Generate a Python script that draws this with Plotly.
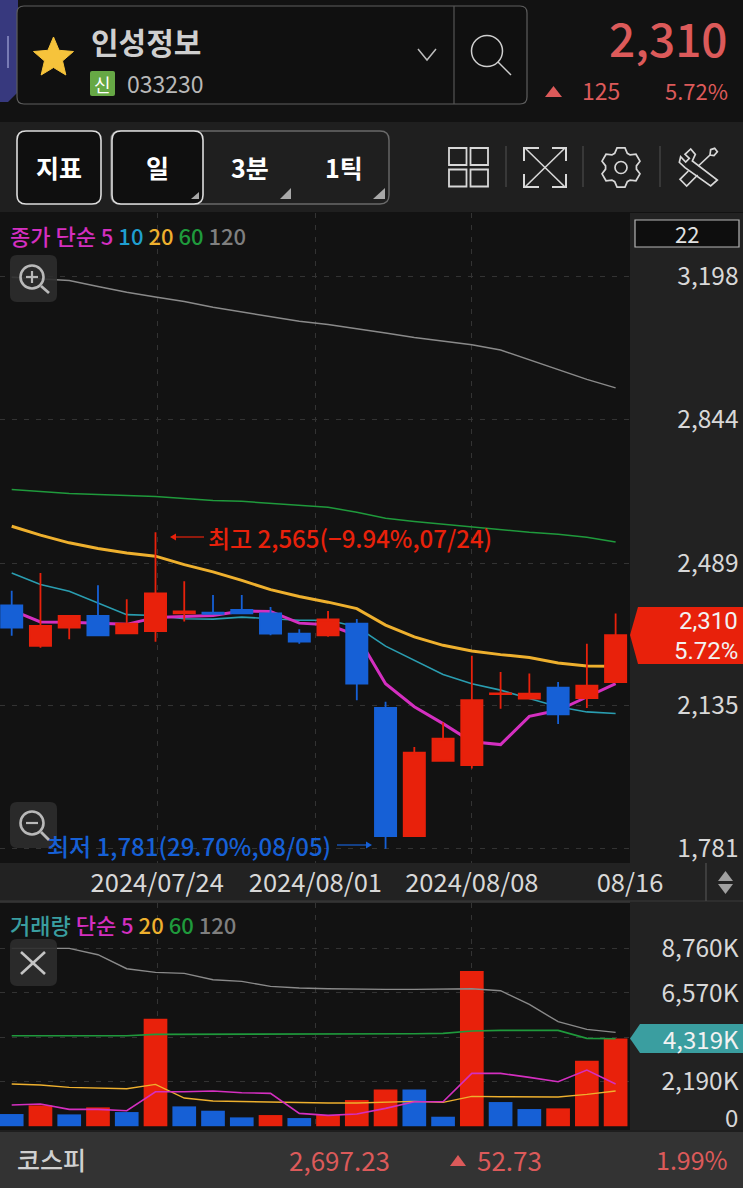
import math
import plotly.graph_objects as go

W, H = 743, 1188
FONT = "Noto Sans CJK KR, Roboto, sans-serif"

# ---- data -------------------------------------------------------------
dates = ["07/17","07/18","07/19","07/22","07/23","07/24","07/25","07/26","07/29","07/30","07/31",
         "08/01","08/02","08/05","08/06","08/07","08/08","08/09","08/12","08/13","08/14","08/16"]
opens  = [2384,2284,2329,2358,2315,2320,2364,2366,2373,2364,2314,2310,2339,2130,1812,1999,1988,2164,2153,2180,2154,2194]
highs  = [2420,2464,2358,2434,2399,2565,2444,2410,2410,2380,2325,2370,2350,2145,2033,2094,2259,2219,2215,2194,2289,2364]
lows   = [2309,2279,2300,2310,2315,2294,2344,2361,2362,2310,2289,2306,2149,1781,1812,1999,1980,2128,2153,2090,2130,2194]
closes = [2329,2333,2358,2310,2339,2414,2369,2363,2364,2314,2294,2349,2190,1812,2019,2054,2149,2166,2165,2114,2185,2310]
ma5   = [2372,2343,2342,2340,2337,2354,2357,2359,2370,2369,2340,2336,2310,2190,2133,2091,2046,2039,2109,2124,2157,2190]
ma10  = [2464,2436,2419,2390,2361,2359,2351,2350,2355,2351,2347,2347,2331,2283,2248,2213,2190,2174,2153,2133,2120,2116]
ma20  = [2580,2558,2539,2525,2514,2506,2485,2467,2446,2423,2406,2392,2376,2335,2306,2285,2271,2262,2255,2241,2234,2233]
ma60  = [2671,2666,2661,2659,2657,2654,2649,2644,2642,2637,2632,2627,2615,2600,2592,2585,2578,2572,2565,2560,2553,2541]
ma120 = [3197,3193,3189,3174,3160,3148,3137,3123,3111,3100,3088,3080,3070,3059,3048,3039,3030,3017,2993,2969,2944,2923]

volume = [600,1027,583,928,698,5298,977,764,435,550,402,550,1290,1815,1815,468,7648,1191,846,879,3228,4319]
vol_dir = ["d","u","d","u","d","u","d","d","d","u","d","u","u","u","d","d","u","d","d","u","u","u"]
vol5   = [1043,1093,830,830,764,1700,1700,1733,1651,1618,633,534,600,879,1208,1208,2604,2604,2407,2193,2768,2078]
vol20  = [2078,2029,1914,1881,1848,2062,1388,1240,1208,1191,1158,1142,1142,1175,1224,1175,1470,1454,1438,1438,1569,1733]
vol60  = [4461,4461,4477,4477,4461,4527,4527,4527,4527,4527,4527,4527,4543,4559,4559,4576,4691,4724,4724,4724,4329,4313]
vol120 = [8765,8765,8765,8453,7763,7582,7533,7221,7139,6892,6810,6777,6744,6744,6744,6744,6777,6679,6005,5151,4773,4625]

x_tick_pos = [5.06, 10.56, 16.0, 21.5]
x_tick_txt = ["2024/07/24", "2024/08/01", "2024/08/08", "08/16"]
price_ticks = [1781, 2135, 2489, 2844, 3198]
price_tick_txt = ["1,781", "2,135", "2,489", "2,844", "3,198"]
vol_ticks = [2190, 4380, 6570, 8760]
vol_tick_txt = ["2,190K", "", "6,570K", "8,760K"]

# ---- colours ----------------------------------------------------------
RED, BLUE = "#e8210b", "#1660d6"
SOFT_RED = "#dc5a5a"
MAG, TEAL, AMB, GRN, GRY = "#d42fc0", "#2a9db0", "#eeb02e", "#1f9a3c", "#8a8a8a"
DARK, PANEL, BAR = "#121212", "#222222", "#333333"
GRID = "#333333"

def px(x): return x / W
def py(y): return 1 - y / H

shapes, annos = [], []

def rect(x0, y0, x1, y1, fill=None, line=None, lw=1.5, layer="above"):
    shapes.append(dict(type="rect", xref="paper", yref="paper", x0=px(x0), x1=px(x1), y0=py(y0), y1=py(y1),
                       fillcolor=fill or "rgba(0,0,0,0)", line=dict(color=line or "rgba(0,0,0,0)", width=lw if line else 0),
                       layer=layer))

def rrect(x0, y0, x1, y1, r, fill=None, line=None, lw=1.5, layer="above"):
    p = [(x0 + r, y0), (x1 - r, y0), (x1, y0), (x1, y0 + r), (x1, y1 - r), (x1, y1), (x1 - r, y1), (x0 + r, y1), (x0, y1), (x0, y1 - r), (x0, y0 + r), (x0, y0), (x0 + r, y0)]
    f = lambda q: f"{px(q[0]):.5f},{py(q[1]):.5f}"
    d = f"M{f(p[0])} L{f(p[1])} Q{f(p[2])} {f(p[3])} L{f(p[4])} Q{f(p[5])} {f(p[6])} L{f(p[7])} Q{f(p[8])} {f(p[9])} L{f(p[10])} Q{f(p[11])} {f(p[12])} Z"
    shapes.append(dict(type="path", xref="paper", yref="paper", path=d, fillcolor=fill or "rgba(0,0,0,0)",
                       line=dict(color=line or "rgba(0,0,0,0)", width=lw if line else 0), layer=layer))

def poly(points, fill=None, line=None, lw=1.5, close=True, layer="above"):
    d = "M" + " L".join(f"{px(a):.5f},{py(b):.5f}" for a, b in points) + (" Z" if close else "")
    shapes.append(dict(type="path", xref="paper", yref="paper", path=d, fillcolor=fill or "rgba(0,0,0,0)",
                       line=dict(color=line or "rgba(0,0,0,0)", width=lw if line else 0), layer=layer))

def seg(x0, y0, x1, y1, color, lw=1.5, layer="above"):
    shapes.append(dict(type="line", xref="paper", yref="paper", x0=px(x0), x1=px(x1), y0=py(y0), y1=py(y1),
                       line=dict(color=color, width=lw), layer=layer))

def circle(cx, cy, r, line, lw=1.5, fill=None):
    shapes.append(dict(type="circle", xref="paper", yref="paper", x0=px(cx - r), x1=px(cx + r), y0=py(cy - r), y1=py(cy + r),
                       line=dict(color=line, width=lw), fillcolor=fill or "rgba(0,0,0,0)", layer="above"))

def text(x, y, s, size, color, anchor="left", weight=400, family=FONT):
    annos.append(dict(xref="paper", yref="paper", x=px(x), y=py(y), text=s, showarrow=False, xanchor=anchor, yanchor="middle",
                      align=anchor, font=dict(family=family, size=size, color=color, weight=weight), borderpad=0, borderwidth=0))

# ---- backgrounds ------------------------------------------------------
rect(0, 122, 743, 212, fill="#1f1f1f", layer="below")
rect(630, 213, 743, 903, fill=PANEL, layer="below")
rect(0, 863, 743, 901, fill=PANEL, layer="below")
rect(630, 903, 743, 1130, fill=PANEL, layer="below")
rect(0, 1130, 743, 1132, fill="#1e1e1e", layer="below")
rect(0, 1132, 743, 1188, fill=BAR, layer="below")
rect(0, 901, 630, 903, fill="#2e2e2e", layer="below")
seg(0, 901, 743, 901, "#3a3a3a", 1, layer="below")

# ---- header -----------------------------------------------------------
poly([(0, 0), (18, 0), (18, 92), (8, 102), (0, 102)], fill="#37397e")
seg(8, 36, 8, 68, "#8f92c9", 1.5)
rrect(17, 6, 527, 104, 7, fill="#101010", line="#5e5e5e", lw=1.2)
seg(454, 6, 454, 104, "#555555", 1.2)
star = []
for k in range(10):
    r = 21 if k % 2 == 0 else 9.5
    a = -math.pi / 2 + k * math.pi / 5
    star.append((53.5 + r * math.cos(a), 58 + r * math.sin(a)))
poly(star, fill="#f6c33b", line="#f6c33b", lw=1)
text(91, 41, "인성정보", 30, "#cfcfcf", weight=700)
rrect(90, 71, 115, 96, 2, fill="#66a845")
text(102.5, 83.5, "신", 18, "#ffffff", "center")
text(127, 83, "033230", 23, "#b8b8b8")
poly([(418, 49), (427, 60), (436, 49)], line="#bdbdbd", lw=1.5, close=False)
circle(487, 51, 15.5, "#cfcfcf", 1.5)
seg(498, 62, 511, 75, "#cfcfcf", 1.5)
text(728, 37, "2,310", 46, SOFT_RED, "right", 500)
poly([(545, 97), (553.5, 86), (562, 97)], fill=SOFT_RED)
text(582, 90, "125", 23, SOFT_RED)
text(728, 90, "5.72%", 22, SOFT_RED, "right")

# ---- toolbar ----------------------------------------------------------
rrect(17, 131, 101, 204, 9, fill="#0f0f0f", line="#dddddd", lw=1.6)
rrect(111, 131, 389, 204, 9, line="#6a6a6a", lw=1.4)
rrect(112, 131, 203, 204, 9, fill="#0f0f0f", line="#dddddd", lw=1.6)
text(59, 167, "지표", 25, "#ffffff", "center", 700)
text(157.5, 167, "일", 25, "#ffffff", "center", 700)
text(250, 167, "3분", 25, "#ffffff", "center", 700)
text(344, 167, "1틱", 25, "#ffffff", "center", 700)
poly([(191, 199), (199, 199), (199, 192)], fill="#a8a8a8")
poly([(280, 199), (291, 199), (291, 188)], fill="#a8a8a8")
poly([(373, 199), (385, 199), (385, 188)], fill="#a8a8a8")
IC = "#d8d8d8"
for a, b in [(449, 148), (470.5, 148), (449, 169.5), (470.5, 169.5)]:
    rect(a, b, a + 17.5, b + 17, line=IC, lw=1.8)
for sx in (506, 583, 660):
    seg(sx, 146, sx, 187, "#444444", 1.4)
seg(525, 148, 565, 187, IC, 1.6)
seg(565, 148, 525, 187, IC, 1.6)
for pts in ([(539, 148), (524, 148), (524, 161)], [(552, 148), (566, 148), (566, 161)],
            [(524, 174), (524, 187), (539, 187)], [(566, 174), (566, 187), (552, 187)]):
    poly(pts, line=IC, lw=2, close=False)
gear = []
for t in range(6):
    base = -math.pi / 2 + t * math.pi / 3
    for off, r in ((-0.42, 15.5), (-0.2, 20), (0.2, 20), (0.42, 15.5)):
        gear.append((621 + r * math.cos(base + off), 167.5 + r * math.sin(base + off)))
poly(gear, line=IC, lw=1.7)
circle(621, 167.5, 6, IC, 1.7)
tz = lambda pts: [(a / 3 + 440, b / 3 + 135) for a, b in pts]
poly(tz([(752, 42), (735, 58), (748, 70), (737, 81), (722, 65), (718, 82), (735, 98), (812, 153), (832, 135), (757, 78), (766, 58)]), line=IC, lw=1.7)
poly(tz([(812, 44), (824, 40), (832, 50), (822, 62), (810, 60)]), line=IC, lw=1.7)
seg(*tz([(810, 60)])[0], *tz([(775, 93)])[0], IC, 1.7)
poly(tz([(745, 108), (720, 133), (740, 153), (773, 120)]), line=IC, lw=1.7, close=False)

# ---- legends ----------------------------------------------------------
def sp(t, c): return f'<span style="color:{c}">{t}</span>'
text(10, 235, sp("종가 단순 5 ", MAG) + sp("10 ", "#1f9fd0") + sp("20 ", AMB) + sp("60 ", GRN) + sp("120", "#7f7f7f"), 22, MAG, weight=500)
text(10, 924, sp("거래량 ", "#3a9ea0") + sp("단순 5 ", MAG) + sp("20 ", AMB) + sp("60 ", GRN) + sp("120", "#7f7f7f"), 22, MAG, weight=500)
rect(635, 220, 739, 247, fill="#0e0e0e", line="#b5b5b5", lw=1.2)
text(687, 232.5, "22", 22, "#e2e2e2", "center")

# ---- zoom icons -------------------------------------------------------
ICG = "#b9b9b9"
rrect(10, 255, 57, 302, 7, fill="rgba(46,46,46,0.9)")
circle(32, 277, 11.5, ICG, 2.6)
seg(26, 277, 38, 277, ICG, 2.2)
seg(32, 271, 32, 283, ICG, 2.2)
seg(41, 286, 49, 293, ICG, 2.8)
rrect(10, 802, 57, 848, 7, fill="rgba(46,46,46,0.9)")
circle(32, 823, 11.5, ICG, 2.6)
seg(26, 823, 38, 823, ICG, 2.2)
seg(41, 832, 49, 840, ICG, 2.8)
rrect(10, 939, 57, 986, 7, fill="rgba(46,46,46,0.9)")
seg(21, 952, 45, 974, "#c4c4c4", 2.6)
seg(45, 952, 21, 974, "#c4c4c4", 2.6)

# ---- high / low notes -------------------------------------------------
text(208, 537, "최고 2,565(−9.94%,07/24)", 24, RED, weight=500)
seg(172, 537, 204, 537, RED, 1.2)
poly([(170, 537), (176, 533.5), (176, 540.5)], fill=RED)
text(47, 845, "최저 1,781(29.70%,08/05)", 24, BLUE, weight=500)
seg(337, 845, 368, 845, BLUE, 1.2)
poly([(372, 845), (366, 841.5), (366, 848.5)], fill=BLUE)

# ---- tags -------------------------------------------------------------
poly([(630, 635), (638, 607), (743, 607), (743, 664), (638, 664)], fill=RED)
text(738, 621, "2,310", 24, "#f2f2f2", "right", family="Roboto")
text(738, 651, "5.72%", 24, "#f2f2f2", "right", family="Roboto")
poly([(630, 1038.5), (640, 1024), (743, 1024), (743, 1053), (640, 1053)], fill="#3a9ea0")
text(738.5, 1038, "4,319K", 24, "#f2f2f2", "right")
text(738, 1116, "0", 24, "#d8d8d8", "right")

# scroll arrows in the date band
seg(706, 863, 706, 901, "#4a4a4a", 1.4)
poly([(718, 881), (725.5, 871), (733, 881)], fill="#a0a0a0")
poly([(718, 884), (733, 884), (725.5, 894)], fill="#a0a0a0")

# ---- bottom bar -------------------------------------------------------
text(17, 1159, "코스피", 25, "#d0d0d0", weight=500)
text(390, 1159, "2,697.23", 26, SOFT_RED, "right")
poly([(450, 1166), (458, 1155), (466, 1166)], fill=SOFT_RED)
text(542, 1159, "52.73", 26, SOFT_RED, "right")
text(728, 1159, "1.99%", 25, SOFT_RED, "right")

# ---- figure -----------------------------------------------------------
xs = list(range(len(dates)))
fig = go.Figure()
for vals, col, lw in ((ma120, GRY, 1.5), (ma60, GRN, 1.5), (ma10, TEAL, 1.6), (ma20, AMB, 3), (ma5, MAG, 3)):
    fig.add_trace(go.Scatter(x=xs, y=vals, mode="lines", line=dict(color=col, width=lw), xaxis="x", yaxis="y"))
fig.add_trace(go.Candlestick(x=xs, open=opens, high=highs, low=lows, close=closes, xaxis="x", yaxis="y3",
                             increasing=dict(line=dict(color=RED, width=1.8), fillcolor=RED),
                             decreasing=dict(line=dict(color=BLUE, width=1.8), fillcolor=BLUE),
                             whiskerwidth=0))
fig.add_trace(go.Bar(x=xs, y=volume, marker=dict(color=[RED if d == "u" else BLUE for d in vol_dir], line_width=0),
                     xaxis="x2", yaxis="y2"))
for vals, col, lw in ((vol120, GRY, 1.4), (vol60, GRN, 1.6), (vol20, AMB, 1.4), (vol5, MAG, 1.6)):
    fig.add_trace(go.Scatter(x=xs, y=vals, mode="lines", line=dict(color=col, width=lw), xaxis="x2", yaxis="y2"))

xr = [-0.407, 21.5]
pr = [1745.6, 3356.4]
vr = [-187, 11003]
grid = dict(showgrid=True, gridcolor=GRID, griddash="5px,7px", gridwidth=1, zeroline=False, showline=False, ticks="", automargin=False)
fig.update_layout(
    width=W, height=H, margin=dict(l=0, r=0, t=0, b=0, pad=0, autoexpand=False), showlegend=False,
    paper_bgcolor=DARK, plot_bgcolor=DARK, boxgap=0.263, boxgroupgap=0, bargap=0.176,
    shapes=shapes, annotations=annos,
    xaxis=dict(domain=[0, 630 / W], range=xr, anchor="y", tickmode="array", tickvals=x_tick_pos, ticktext=x_tick_txt,
               tickangle=0, ticklabelstandoff=2, tickfont=dict(family=FONT, size=25.5, color="#d8d8d8"),
               rangeslider=dict(visible=False), **grid),
    xaxis2=dict(domain=[0, 630 / W], range=xr, anchor="y2", matches="x", tickmode="array", tickvals=x_tick_pos,
                showticklabels=False, **grid),
    yaxis=dict(domain=[py(863), py(213)], range=pr, anchor="free", position=738.5 / W, side="left", tickmode="array",
               tickvals=price_ticks, ticktext=price_tick_txt, tickfont=dict(family=FONT, size=24.5, color="#d8d8d8"), **grid),
    yaxis3=dict(domain=[py(863), py(213)], range=pr, overlaying="y", anchor="x", visible=False),
    yaxis2=dict(domain=[py(1130), py(903)], range=vr, anchor="free", position=738.5 / W, side="left", tickmode="array",
                tickvals=vol_ticks, ticktext=vol_tick_txt, tickfont=dict(family=FONT, size=24.5, color="#d8d8d8"), **grid),
)
fig.write_html("out.html", config=dict(displayModeBar=False),
               post_script="document.body.style.margin='0';document.body.style.overflow='hidden';")
